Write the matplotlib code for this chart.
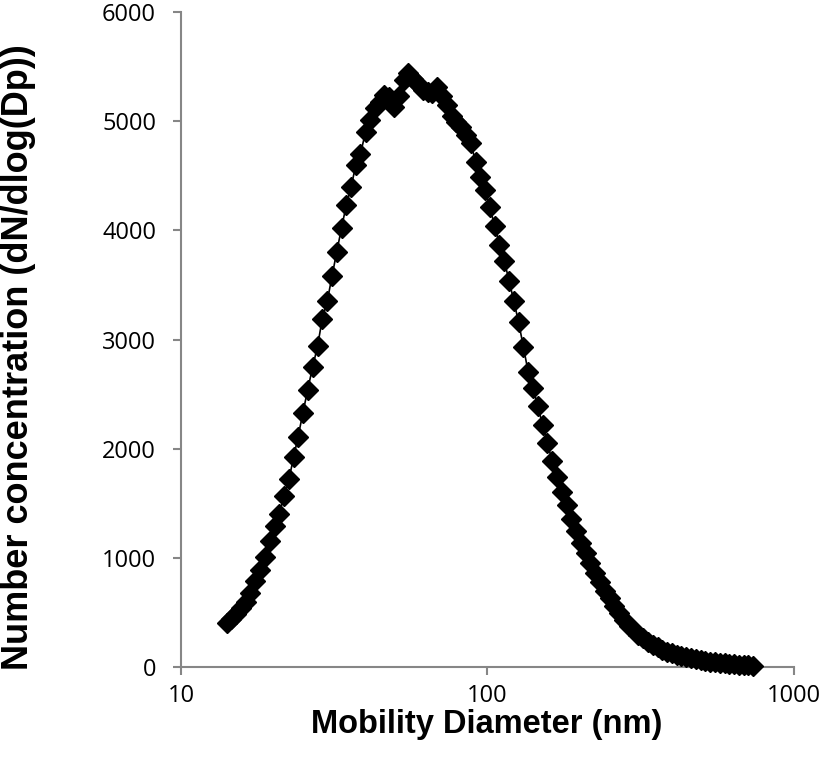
import numpy as np
import matplotlib.pyplot as plt

#mobility diameter of each channel (nm)
diameter=[14.1,14.6,15.1,15.7,16.3,16.8,17.5,18.1,18.8,19.5,
          20.2,20.9,21.7,22.5,23.3,24.1,25.0,25.9,26.9,27.9,
          28.9,30.0,31.1,32.2,33.4,34.6,35.9,37.2,38.5,40.0,
          41.4,42.9,44.5,46.1,47.8,49.6,51.4,53.3,55.2,57.3,
          59.4,61.5,63.8,66.1,68.5,71.0,73.7,76.4,79.1,82.0,
          85.1,88.2,91.4,94.7,98.2,101.8,105.5,109.4,113.4,117.6,
          121.9,126.3,131.0,135.8,140.7,145.9,151.2,156.8,162.5,168.5,
          174.7,181.1,187.7,194.6,201.7,209.1,216.7,224.7,232.9,241.4,
          250.3,259.5,269.0,278.8,289.0,299.6,310.6,322.0,333.8,346.0,
          358.7,371.8,385.4,399.5,414.2,429.4,445.1,461.4,478.3,495.8,
          514.0,532.8,552.3,572.5,593.5,615.3,637.8,661.2,685.4,710.5,
          736.5]

#number concentration dN/dlog(Dp)
concentration=[400,440,490,540,600,680,790,890,1010,1150,
               1290,1400,1570,1720,1920,2110,2330,2540,2750,2940,
               3190,3350,3580,3800,4020,4230,4400,4600,4700,4900,
               5010,5120,5180,5240,5220,5130,5230,5380,5440,5390,
               5340,5290,5270,5260,5310,5230,5150,5050,4990,4950,
               4870,4800,4630,4490,4370,4210,4040,3870,3720,3540,
               3350,3160,2930,2700,2560,2390,2220,2050,1890,1740,
               1600,1480,1360,1250,1140,1040,950,860,780,700,
               630,560,495,435,380,335,295,262,232,205,
               180,160,142,126,112,100,88,78,70,62,
               55,49,43,38,33,29,25,21,18,15,
               12]

x_ticks=[10,100,1000]
y_ticks=[0,1000,2000,3000,4000,5000,6000]

spine_color='#868686'

figure=plt.figure(figsize=(8.25,7.65),dpi=100)
ax=figure.add_axes([0.2194,0.1281,0.743,0.8562])

#main curve
ax.plot(diameter,concentration,color='black',linewidth=1.2,
        marker='D',markersize=10,markerfacecolor='black',
        markeredgecolor='black',zorder=3,clip_on=False)

ax.set_xscale('log')
ax.set_xlim(10,1000)
ax.set_ylim(0,6000)

ax.set_xticks(x_ticks)
ax.set_xticklabels([str(t) for t in x_ticks])
ax.xaxis.set_minor_locator(plt.NullLocator())
ax.set_yticks(y_ticks)
ax.set_yticklabels([str(t) for t in y_ticks])

'''decoration'''
ax.spines['top'].set_visible(False)
ax.spines['right'].set_visible(False)
for side in ['left','bottom']:
    ax.spines[side].set_color(spine_color)
    ax.spines[side].set_linewidth(1.5)

ax.tick_params(axis='both',which='major',direction='out',
               length=6,width=1.5,color=spine_color,
               labelsize=17,labelcolor='black')
ax.tick_params(axis='y',pad=12)
ax.tick_params(axis='x',pad=6)

for label in ax.get_xticklabels()+ax.get_yticklabels():
    label.set_fontfamily(['Open Sans','DejaVu Sans'])

label_font={'family':['Liberation Sans','DejaVu Sans'],
            'weight':'bold'}

ax.set_xlabel('Mobility Diameter (nm)',fontdict=label_font,fontsize=23.5)
ax.set_ylabel('Number concentration (dN/dlog(Dp))',fontdict=label_font,fontsize=26)

#label anchors
ax.xaxis.set_label_coords(0.499,-0.064)
ax.yaxis.set_label_coords(-0.236,0.473)

figure.savefig('out.png',dpi=100)
plt.close()
